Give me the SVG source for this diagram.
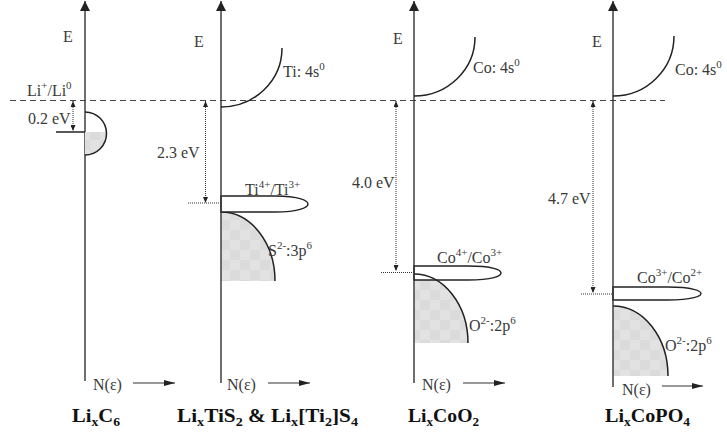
<svg xmlns="http://www.w3.org/2000/svg" width="727" height="432" viewBox="0 0 727 432">
<style>
.t{font-family:"Liberation Serif",serif;font-size:16px;fill:#3a3a3a}
.b{font-family:"Liberation Serif",serif;font-size:18px;font-weight:bold;fill:#111}
.ax{stroke:#333;stroke-width:1.4;fill:none}
.ln{stroke:#222;stroke-width:1.5;fill:none}
.dash{stroke:#444;stroke-width:1.2;stroke-dasharray:6 4;fill:none}
.dot{stroke:#333;stroke-width:1;stroke-dasharray:1 1;fill:none}
.band{fill:#fff;stroke:#222;stroke-width:1.4}
.vb{fill:url(#chk);stroke:none}
.narr{stroke:#333;stroke-width:1.2;fill:none}
</style>
<defs>
<pattern id="chk" width="20" height="20" patternUnits="userSpaceOnUse">
<rect width="20" height="20" fill="#e2e2e2"/>
<rect width="10" height="10" fill="#dbdbdb"/>
<rect x="10" y="10" width="10" height="10" fill="#dbdbdb"/>
</pattern>
<marker id="axh" markerUnits="userSpaceOnUse" markerWidth="10" markerHeight="10" refX="10" refY="5" orient="auto"><path d="M0,0 L10,5 L0,10 z" fill="#222"/></marker>
<marker id="nh" markerUnits="userSpaceOnUse" markerWidth="11" markerHeight="6" refX="11" refY="3" orient="auto"><path d="M0,0 L11,3 L0,6 z" fill="#222"/></marker>
<marker id="dh" markerUnits="userSpaceOnUse" markerWidth="6" markerHeight="5" refX="6" refY="2.5" orient="auto-start-reverse"><path d="M0,0 L6,2.5 L0,5 z" fill="#222"/></marker>
</defs>

<g id="fermi">
<path class="dash" d="M10,100.5 H665"/>
<text class="t" x="27" y="96">Li<tspan font-size="11" dy="-7">+</tspan><tspan dy="7">/Li</tspan><tspan font-size="11" dy="-7">0</tspan></text>
</g>

<g id="panel-LixC6">
<path class="ax" d="M85,381 V1" marker-end="url(#axh)"/>
<text class="t" x="63" y="42">E</text>
<path class="vb" d="M85,132 H106.4 A21.5,21.5 0 0 1 85,155 Z"/>
<path class="ln" d="M85,112 A21.5,21.5 0 0 1 85,155"/>
<path class="ln" d="M56,132 H85"/>
<path class="dot" d="M73,101 V131" marker-start="url(#dh)" marker-end="url(#dh)"/>
<text class="t" x="28" y="124">0.2 eV</text>
<text class="t" x="93" y="390">N(ε)</text>
<path class="narr" d="M133,383 H175" marker-end="url(#nh)"/>
<text class="b" x="72" y="422" textLength="48" lengthAdjust="spacingAndGlyphs">Li<tspan font-size="12" dy="4">x</tspan><tspan dy="-4">C</tspan><tspan font-size="12" dy="4">6</tspan></text>
</g>

<g id="panel-LixTiS2">
<path class="vb" d="M221,212 A54,69 0 0 1 275,281 H221 Z"/>
<path class="ln" d="M221,212 A54,69 0 0 1 275,281"/>
<path class="band" d="M221,196 H275 C300,196 308,201 308,204 C308,207 300,212 275,212 H221 Z"/>
<path class="ax" d="M221,383 V1" marker-end="url(#axh)"/>
<text class="t" x="194" y="47">E</text>
<path class="ln" d="M221,107 A61,59 0 0 0 282,48"/>
<text class="t" x="283" y="77">Ti: 4s<tspan font-size="11" dy="-7">0</tspan></text>
<path class="dot" d="M205.5,101 V203" marker-start="url(#dh)" marker-end="url(#dh)"/>
<path class="dot" d="M188,203 H221"/>
<text class="t" x="157" y="158">2.3 eV</text>
<text class="t" x="245" y="195">Ti<tspan font-size="11" dy="-7">4+</tspan><tspan dy="7">/Ti</tspan><tspan font-size="11" dy="-7">3+</tspan></text>
<text class="t" x="268" y="256">S<tspan font-size="11" dy="-7">2-</tspan><tspan dy="7">:3p</tspan><tspan font-size="11" dy="-7">6</tspan></text>
<text class="t" x="227" y="390">N(ε)</text>
<path class="narr" d="M268,383 H310" marker-end="url(#nh)"/>
<text class="b" x="177" y="422" textLength="181" lengthAdjust="spacingAndGlyphs">Li<tspan font-size="12" dy="4">x</tspan><tspan dy="-4">TiS</tspan><tspan font-size="12" dy="4">2</tspan><tspan dy="-4"> &amp; Li</tspan><tspan font-size="12" dy="4">x</tspan><tspan dy="-4">[Ti</tspan><tspan font-size="12" dy="4">2</tspan><tspan dy="-4">]S</tspan><tspan font-size="12" dy="4">4</tspan></text>
</g>

<g id="panel-LixCoO2">
<path class="vb" d="M414,274 A54,69 0 0 1 468,343 H414 Z"/>
<path class="band" d="M414,266 H468 C493,266 501,270 501,273 C501,276 493,280 468,280 H414 Z"/>
<path class="ln" d="M414,274 A54,69 0 0 1 468,343"/>
<path class="ax" d="M414,383 V1" marker-end="url(#axh)"/>
<text class="t" x="393" y="44">E</text>
<path class="ln" d="M414,96 A61,59 0 0 0 475,37"/>
<text class="t" x="473" y="73">Co: 4s<tspan font-size="11" dy="-7">0</tspan></text>
<path class="dot" d="M396,101 V271" marker-start="url(#dh)" marker-end="url(#dh)"/>
<path class="dot" d="M381,272.5 H414"/>
<text class="t" x="352" y="188">4.0 eV</text>
<text class="t" x="437" y="263">Co<tspan font-size="11" dy="-7">4+</tspan><tspan dy="7">/Co</tspan><tspan font-size="11" dy="-7">3+</tspan></text>
<text class="t" x="469" y="331">O<tspan font-size="11" dy="-7">2-</tspan><tspan dy="7">:2p</tspan><tspan font-size="11" dy="-7">6</tspan></text>
<text class="t" x="422" y="390">N(ε)</text>
<path class="narr" d="M463,383 H505" marker-end="url(#nh)"/>
<text class="b" x="408" y="422" textLength="71" lengthAdjust="spacingAndGlyphs">Li<tspan font-size="12" dy="4">x</tspan><tspan dy="-4">CoO</tspan><tspan font-size="12" dy="4">2</tspan></text>
</g>

<g id="panel-LixCoPO4">
<path class="vb" d="M613,306 A55,70 0 0 1 668,376 H613 Z"/>
<path class="ln" d="M613,306 A55,70 0 0 1 668,376"/>
<path class="band" d="M613,287 H668 C693,287 701,291 701,293.5 C701,296 693,300 668,300 H613 Z"/>
<path class="ax" d="M613,387 V1" marker-end="url(#axh)"/>
<text class="t" x="592" y="47">E</text>
<path class="ln" d="M613,96 A61,60 0 0 0 674,36"/>
<text class="t" x="675" y="75">Co: 4s<tspan font-size="11" dy="-7">0</tspan></text>
<path class="dot" d="M593,101 V293" marker-start="url(#dh)" marker-end="url(#dh)"/>
<path class="dot" d="M581,294 H613"/>
<text class="t" x="548" y="204">4.7 eV</text>
<text class="t" x="637" y="283">Co<tspan font-size="11" dy="-7">3+</tspan><tspan dy="7">/Co</tspan><tspan font-size="11" dy="-7">2+</tspan></text>
<text class="t" x="665" y="351">O<tspan font-size="11" dy="-7">2-</tspan><tspan dy="7">:2p</tspan><tspan font-size="11" dy="-7">6</tspan></text>
<text class="t" x="622" y="395">N(ε)</text>
<path class="narr" d="M662,386 H703" marker-end="url(#nh)"/>
<text class="b" x="605" y="422" textLength="85" lengthAdjust="spacingAndGlyphs">Li<tspan font-size="12" dy="4">x</tspan><tspan dy="-4">CoPO</tspan><tspan font-size="12" dy="4">4</tspan></text>
</g>
</svg>
